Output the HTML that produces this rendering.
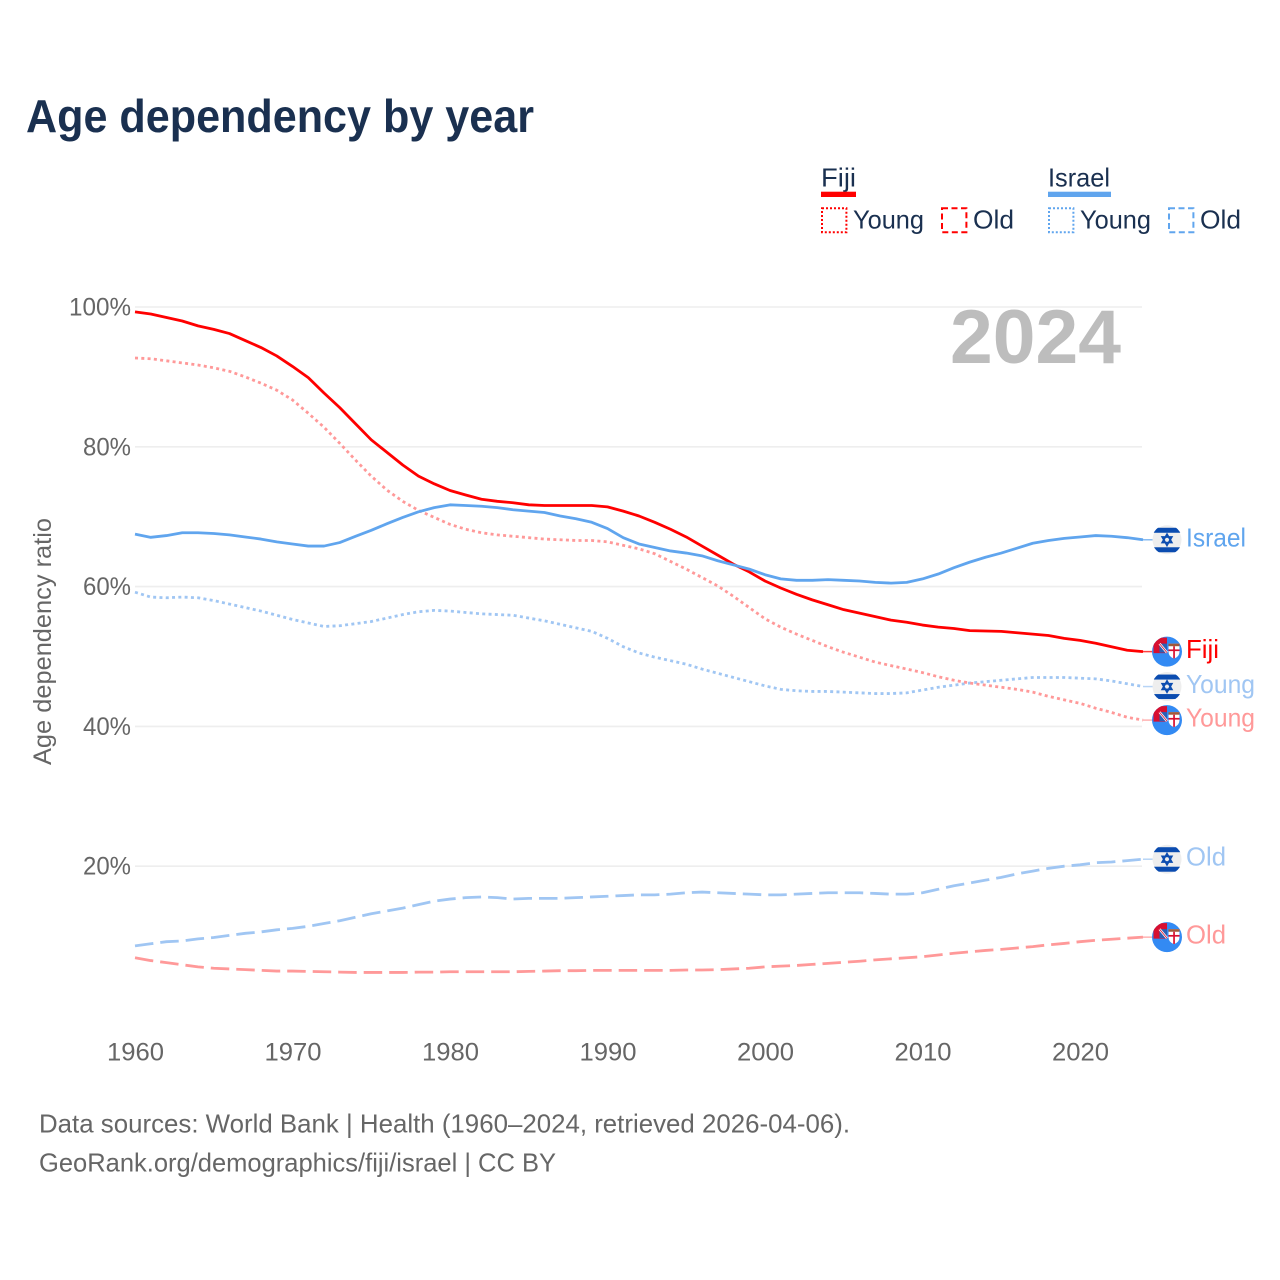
<!DOCTYPE html>
<html>
<head>
<meta charset="utf-8">
<title>Age dependency by year</title>
<style>
html,body{margin:0;padding:0;background:#fff;width:1280px;height:1280px;overflow:hidden}
svg{display:block}
text{font-family:"Liberation Sans",sans-serif}
</style>
</head>
<body>
<svg id="chart" width="1280" height="1280" viewBox="0 0 1280 1280" xmlns="http://www.w3.org/2000/svg">
<defs>
<clipPath id="flag-clip"><circle cx="0" cy="0" r="15"/></clipPath>
<g id="flag-israel">
<circle r="14.5" fill="#eeeeee"/>
<g clip-path="url(#flag-clip)">
<rect x="-15" y="-12" width="30" height="5" fill="#0b4cb0"/>
<rect x="-15" y="7.5" width="30" height="5" fill="#0b4cb0"/>
</g>
<path d="M0,-5.6 L4.8,2.8 L-4.8,2.8 Z M0,5.6 L4.8,-2.8 L-4.8,-2.8 Z" fill="none" stroke="#0b4cb0" stroke-width="1.7"/>
</g>
<g id="flag-fiji">
<circle r="15" fill="#338af3"/>
<g clip-path="url(#flag-clip)">
<path d="M-13.5,1.5 L-13.5,-9 L-10,-14 L0,-14 L0,1.5 Z" fill="#d80f30"/>
<rect x="-7.5" y="-8" width="7.5" height="9" fill="#2b5fb5"/>
<path d="M-7.5,-8 L0,1" stroke="#ffffff" stroke-width="2.4"/>
<path d="M-7.5,-8 L0,1" stroke="#d80f30" stroke-width="0.8"/>
<path d="M1.5,-8 L12.5,-8 L12.5,0 Q12.5,5 7,7 Q1.5,5 1.5,0 Z" fill="#ffffff"/>
<rect x="1.5" y="-8" width="11" height="2.6" fill="#a05a3c"/>
<rect x="6.2" y="-5.4" width="1.7" height="12.2" fill="#d80f30"/>
<rect x="1.5" y="-2.2" width="11" height="1.7" fill="#d80f30"/>
</g>
</g>
</defs>

<text x="26" y="132" font-size="46" font-weight="700" fill="#1a3050" textLength="508" lengthAdjust="spacingAndGlyphs">Age dependency by year</text>

<g fill="#1a3050" font-size="26">
  <text x="821" y="186.5" textLength="35" lengthAdjust="spacingAndGlyphs">Fiji</text>
  <rect x="821" y="191.7" width="35" height="5.3" fill="#ff0000"/>
  <text x="1048" y="186.5" textLength="62" lengthAdjust="spacingAndGlyphs">Israel</text>
  <rect x="1048" y="191.7" width="63" height="5.3" fill="#60a5ee"/>

  <rect x="822" y="208.2" width="24.4" height="24" fill="none" stroke="#ff0000" stroke-width="2" stroke-dasharray="2 2"/>
  <text x="853" y="228.5" textLength="71" lengthAdjust="spacingAndGlyphs">Young</text>
  <rect x="942" y="208.2" width="24.4" height="24" fill="none" stroke="#ff0000" stroke-width="2" stroke-dasharray="6 3.5"/>
  <text x="973" y="228.5" textLength="41" lengthAdjust="spacingAndGlyphs">Old</text>

  <rect x="1049" y="208.2" width="24.4" height="24" fill="none" stroke="#60a5ee" stroke-width="2" stroke-dasharray="2 2"/>
  <text x="1080" y="228.5" textLength="71" lengthAdjust="spacingAndGlyphs">Young</text>
  <rect x="1169" y="208.2" width="24.4" height="24" fill="none" stroke="#60a5ee" stroke-width="2" stroke-dasharray="6 3.5"/>
  <text x="1200" y="228.5" textLength="41" lengthAdjust="spacingAndGlyphs">Old</text>
</g>

<text transform="translate(51 641.5) rotate(-90)" text-anchor="middle" font-size="25" fill="#666666" textLength="247" lengthAdjust="spacingAndGlyphs">Age dependency ratio</text>

<g id="grid"></g>
<g id="y-ticks"></g>
<g id="x-ticks"></g>

<text x="950" y="363" font-size="76" font-weight="700" fill="#bdbdbd" textLength="171" lengthAdjust="spacingAndGlyphs">2024</text>

<g id="series"></g>
<g id="end-labels"></g>

<g font-size="26" fill="#666666">
  <text x="39" y="1132.5" textLength="811" lengthAdjust="spacingAndGlyphs">Data sources: World Bank | Health (1960–2024, retrieved 2026-04-06).</text>
  <text x="39" y="1171.5" textLength="517" lengthAdjust="spacingAndGlyphs">GeoRank.org/demographics/fiji/israel | CC BY</text>
</g>
</svg>

<script>
const startYear = 1960;
const xTickYears = [1960, 1970, 1980, 1990, 2000, 2010, 2020];
const yTickValues = [20, 40, 60, 80, 100];
const yTickLabels = ['20%', '40%', '60%', '80%', '100%'];

const fijiTotal = [99.3,99.0,98.5,98.0,97.3,96.8,96.2,95.2,94.2,93.0,91.5,89.9,87.7,85.6,83.3,81.0,79.2,77.4,75.8,74.7,73.75,73.1,72.5,72.2,72.0,71.7,71.6,71.6,71.6,71.6,71.4,70.8,70.1,69.2,68.2,67.1,65.8,64.5,63.2,62.1,60.8,59.8,58.9,58.1,57.4,56.7,56.2,55.7,55.2,54.9,54.5,54.2,54.0,53.7,53.65,53.6,53.4,53.2,53.0,52.6,52.3,51.9,51.4,50.9,50.7];
const fijiYoung = [92.7,92.6,92.3,92.0,91.7,91.3,90.8,90.0,89.1,88.1,86.7,84.8,82.8,80.5,78.1,75.8,73.8,72.2,70.9,69.9,68.9,68.2,67.7,67.4,67.2,67.0,66.8,66.7,66.6,66.6,66.4,65.9,65.4,64.7,63.6,62.5,61.3,60.1,58.6,57.0,55.4,54.2,53.2,52.3,51.4,50.6,49.9,49.2,48.7,48.2,47.7,47.1,46.6,46.2,45.9,45.6,45.3,44.9,44.3,43.8,43.3,42.6,42.0,41.3,40.9];
const fijiOld = [6.9,6.5,6.2,5.9,5.6,5.4,5.3,5.2,5.1,5.0,5.0,4.95,4.9,4.85,4.8,4.8,4.8,4.8,4.85,4.85,4.9,4.9,4.9,4.9,4.9,4.95,5.0,5.05,5.05,5.1,5.1,5.1,5.1,5.1,5.1,5.15,5.15,5.2,5.3,5.4,5.6,5.7,5.8,5.95,6.1,6.25,6.4,6.6,6.75,6.9,7.05,7.3,7.55,7.75,7.95,8.1,8.3,8.5,8.75,8.95,9.2,9.4,9.55,9.7,9.85];
const israelTotal = [67.5,67.05,67.3,67.7,67.7,67.6,67.4,67.1,66.8,66.4,66.1,65.8,65.8,66.3,67.2,68.05,69.0,69.9,70.7,71.3,71.7,71.6,71.5,71.3,71.0,70.8,70.6,70.1,69.7,69.2,68.3,67.0,66.1,65.6,65.1,64.8,64.4,63.7,63.1,62.5,61.7,61.1,60.9,60.9,61.0,60.9,60.8,60.6,60.5,60.6,61.1,61.8,62.7,63.5,64.2,64.8,65.5,66.2,66.6,66.9,67.1,67.3,67.2,67.0,66.7];
const israelYoung = [59.2,58.5,58.4,58.5,58.4,58.0,57.5,57.0,56.5,55.9,55.3,54.8,54.3,54.4,54.7,55.0,55.5,56.0,56.4,56.6,56.5,56.3,56.1,56.0,55.9,55.5,55.1,54.6,54.1,53.6,52.6,51.4,50.5,49.9,49.4,48.9,48.2,47.6,47.0,46.4,45.8,45.3,45.1,45.0,45.0,44.9,44.8,44.7,44.7,44.8,45.2,45.6,45.9,46.2,46.4,46.6,46.8,47.0,47.0,47.0,46.9,46.8,46.5,46.1,45.7];
const israelOld = [8.6,8.9,9.2,9.3,9.6,9.8,10.1,10.4,10.6,10.9,11.1,11.4,11.8,12.2,12.7,13.2,13.6,14.0,14.5,15.0,15.3,15.5,15.6,15.5,15.3,15.4,15.4,15.4,15.5,15.6,15.7,15.8,15.9,15.9,16.0,16.2,16.3,16.2,16.1,16.0,15.9,15.9,16.0,16.1,16.2,16.2,16.2,16.1,16.0,16.0,16.2,16.7,17.2,17.6,18.0,18.4,18.9,19.3,19.7,20.0,20.2,20.5,20.6,20.8,21.0];

const NS = 'http://www.w3.org/2000/svg';
function xScale(year) { return 135 + (year - 1960) * 15.75; }
function yScale(v) { return 307 + (100 - v) * 6.99; }
function make(tag, attrs, parent) {
  const el = document.createElementNS(NS, tag);
  for (const k in attrs) el.setAttribute(k, attrs[k]);
  parent.appendChild(el);
  return el;
}
const gridG = document.getElementById('grid');
const yTicksG = document.getElementById('y-ticks');
const xTicksG = document.getElementById('x-ticks');
const seriesG = document.getElementById('series');
const labelsG = document.getElementById('end-labels');

yTickValues.forEach(function (v, i) {
  const y = yScale(v);
  const line = make('line', {x1: 135, x2: 1142, y1: y, y2: y, stroke: '#eeeeee', 'stroke-width': 1.6}, gridG);
  
  
  const label = yTickLabels[i];
  const t = make('text', {x: 131, y: y + 8.5, 'text-anchor': 'end', 'font-size': 25, fill: '#666666', textLength: label.length === 4 ? 62 : 48, lengthAdjust: 'spacingAndGlyphs'}, yTicksG);
  t.textContent = label;
  
  
});

xTickYears.forEach(function (yr) {
  const t = make('text', {x: xScale(yr) + 0.5, y: 1060.5, 'text-anchor': 'middle', 'font-size': 25, fill: '#666666', textLength: 57, lengthAdjust: 'spacingAndGlyphs'}, xTicksG);
  t.textContent = String(yr);
  
  
});

const dotted = '3 3.3';
const dashed = '18.5 7';
const seriesList = [
  {key: 'israel-old', values: israelOld, color: '#a0c6f3', dash: dashed, label: 'Old', flag: 'flag-israel', w: 40},
  {key: 'fiji-old', values: fijiOld, color: '#ff9999', dash: dashed, label: 'Old', flag: 'flag-fiji', w: 40},
  {key: 'israel-young', values: israelYoung, color: '#a0c6f3', dash: dotted, label: 'Young', flag: 'flag-israel', w: 69},
  {key: 'fiji-young', values: fijiYoung, color: '#ff9999', dash: dotted, label: 'Young', flag: 'flag-fiji', w: 69},
  {key: 'fiji-total', values: fijiTotal, color: '#ff0000', dash: '', label: 'Fiji', flag: 'flag-fiji', w: 33},
  {key: 'israel-total', values: israelTotal, color: '#60a5ee', dash: '', label: 'Israel', flag: 'flag-israel', w: 60}
];

seriesList.forEach(function (s) {
  const pts = s.values.map(function (v, i) {
    return xScale(startYear + i).toFixed(2) + ',' + yScale(v).toFixed(2);
  }).join(' ');
  const line = make('polyline', {points: pts, fill: 'none', stroke: s.color, 'stroke-width': 2.8, 'stroke-linejoin': 'round'}, seriesG);
  if (s.dash) line.setAttribute('stroke-dasharray', s.dash);
  
  

  const last = s.values[s.values.length - 1];
  const yEnd = yScale(last);
  const xEnd = xScale(startYear + s.values.length - 1);
  const conn = make('line', {x1: xEnd, x2: xEnd + 10, y1: yEnd, y2: yEnd, stroke: s.color, 'stroke-width': 1.5, opacity: 0.75}, labelsG);
  
  

  const flag = make('use', {href: '#' + s.flag, transform: 'translate(1167 ' + yEnd.toFixed(2) + ')'}, labelsG);
  
  

  const t = make('text', {x: 1186, y: yEnd + 6.5, 'font-size': 26, fill: s.color, textLength: s.w, lengthAdjust: 'spacingAndGlyphs'}, labelsG);
  t.textContent = s.label;
  
  
});
</script>
</body>
</html>
